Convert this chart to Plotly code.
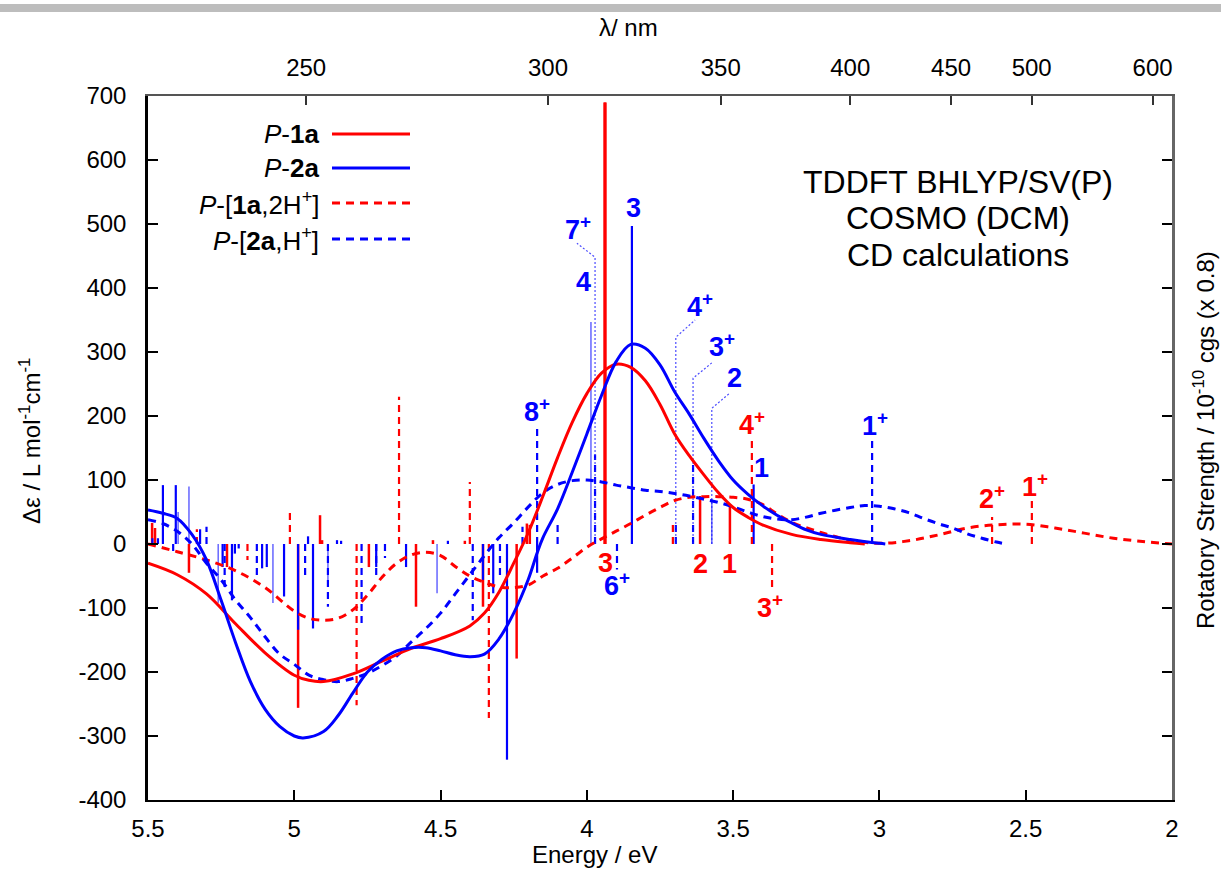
import plotly.graph_objects as go

# ---------------- data ----------------
# P-1a (solid red curve)
p1a_E = [5.5, 5.4, 5.3, 5.2, 5.1, 5.0, 4.95, 4.9, 4.8, 4.7, 4.6, 4.5, 4.4, 4.35, 4.3, 4.25, 4.2,
         4.15, 4.1, 4.05, 4.0, 3.95, 3.9, 3.85, 3.8, 3.75, 3.7, 3.65, 3.6, 3.55, 3.5, 3.45, 3.4,
         3.3, 3.2, 3.1, 3.05]
p1a_D = [-30, -48, -78, -125, -170, -205, -213, -215, -203, -183, -163, -148, -128, -108, -75, -30, 18,
         75, 135, 190, 235, 267, 281, 276, 255, 218, 172, 138, 108, 80, 57, 42, 30,
         15, 7, 2, 0]
# P-2a (solid blue curve)
p2a_E = [5.5, 5.45, 5.4, 5.35, 5.3, 5.25, 5.2, 5.15, 5.1, 5.05, 5.0, 4.97, 4.9, 4.85, 4.8, 4.75,
         4.7, 4.65, 4.6, 4.55, 4.5, 4.45, 4.4, 4.35, 4.3, 4.25, 4.2, 4.17, 4.15, 4.1, 4.05, 4.0,
         3.95, 3.9, 3.85, 3.8, 3.75, 3.7, 3.65, 3.6, 3.55, 3.5, 3.45, 3.4, 3.35, 3.3, 3.25, 3.2,
         3.1, 3.0, 2.98]
p2a_D = [53, 48, 40, 15, -25, -88, -155, -215, -258, -285, -300, -303, -293, -268, -233, -200,
         -180, -167, -162, -162, -167, -173, -176, -172, -148, -108, -55, -14, 10, 55, 112, 172,
         232, 285, 312, 306, 280, 238, 203, 165, 130, 100, 78, 60, 45, 33, 22, 15,
         7, 1, 0]
# P-[1a,2H+] (dashed red curve)
p1aH_E = [5.5, 5.4, 5.3, 5.2, 5.1, 5.0, 4.95, 4.9, 4.85, 4.8, 4.75, 4.7, 4.65, 4.6, 4.55, 4.5,
          4.45, 4.4, 4.35, 4.3, 4.25, 4.2, 4.15, 4.1, 4.05, 4.0, 3.95, 3.9, 3.85, 3.8, 3.75,
          3.7, 3.65, 3.6, 3.55, 3.5, 3.45, 3.4, 3.35, 3.3, 3.2, 3.1, 3.0, 2.9, 2.8, 2.7, 2.6,
          2.5, 2.4, 2.3, 2.2, 2.1, 2.0]
p1aH_D = [0, -12, -25, -42, -68, -105, -116, -119, -116, -103, -80, -52, -30, -17, -13, -18,
          -35, -50, -60, -67, -68, -64, -50, -38, -22, -5, 8, 20, 32, 45, 57,
          68, 73, 74, 74, 73, 70, 62, 47, 34, 18, 6, 1, 5, 14, 25, 30,
          31, 25, 17, 9, 4, 0]
# P-[2a,H+] (dashed blue curve)
p2aH_E = [5.5, 5.45, 5.4, 5.35, 5.3, 5.25, 5.2, 5.15, 5.1, 5.05, 5.0, 4.95, 4.9, 4.85, 4.8, 4.75,
          4.7, 4.65, 4.6, 4.55, 4.5, 4.45, 4.4, 4.35, 4.3, 4.25, 4.2, 4.15, 4.1, 4.05, 4.0, 3.95,
          3.9, 3.85, 3.8, 3.75, 3.7, 3.65, 3.6, 3.55, 3.5, 3.45, 3.4, 3.35, 3.3, 3.25, 3.2, 3.1,
          3.05, 3.0, 2.95, 2.9, 2.85, 2.8, 2.75, 2.7, 2.65, 2.6, 2.58]
p2aH_D = [38, 32, 20, 0, -30, -56, -88, -115, -145, -172, -188, -205, -212, -215, -210, -202,
          -190, -175, -153, -132, -108, -78, -48, -18, 10, 33, 58, 80, 93, 99, 100, 97,
          92, 88, 84, 82, 79, 75, 70, 65, 58, 50, 43, 39, 38, 42, 48, 57,
          60, 59, 55, 49, 40, 32, 25, 16, 9, 3, 1]

# rotatory strengths (sticks)
p1a_stick_E = [5.486, 5.476, 5.36, 5.23, 4.987, 4.912, 4.905, 4.745, 4.584, 4.526, 4.417, 4.355,
               4.24, 4.205, 4.195, 3.938, 3.613, 3.511]
p1a_stick_R = [33, 25, -45, -36, -256, 45, 6, -36, -98, 6, 5, -98,
               -179, 32, 30, 690, 75, 60]
p2a_stick_E = [5.485, 5.466, 5.449, 5.405, 5.322, 5.245, 5.213, 5.203, 5.19, 5.11, 5.094, 5.035,
               4.987, 4.953, 4.936, 4.854, 4.84, 4.72, 4.618, 4.475, 4.355, 4.32, 4.273, 4.17,
               3.846, 3.43]
p2a_stick_R = [9, 9, 92, 92, 23, -36, -88, -15, -7, -38, -36, -82,
               -134, 12, -132, 6, 5, -36, -36, 5, -56, -77, -337, -45,
               497, 93]
p2a_light_E = [5.397, 5.36, 5.26, 5.073, 4.885, 4.512, 3.986, 3.573]
p2a_light_R = [50, 90, -92, -92, -61, -77, 347, 70]
p1aH_stick_E = [5.333, 5.16, 5.015, 4.787, 4.642, 4.4, 4.335, 3.706, 3.436, 3.367, 2.615, 2.479]
p1aH_stick_R = [23, -25, 53, -252, 230, 97, -272, 33, 168, -70, 42, 74]
p2aH_stick_E = [5.414, 5.30, 5.238, 5.128, 4.963, 4.885, 4.77, 4.72, 4.69, 4.39, 4.297, 4.22,
                4.17, 4.1, 3.972, 3.897, 3.696, 3.637, 3.025]
p2aH_stick_R = [-12, 27, -72, -56, -56, -98, -129, -56, -22, -119, -56, 27,
                184, 30, 140, -40, 30, 130, 162]

# leader lines: stick energy, bend value, end energy, end value
leader_E0 = [3.972, 3.696, 3.637, 3.573]
leader_R0 = [448, 323, 259, 212]
leader_E1 = [4.034, 3.630, 3.573, 3.511]
leader_R1 = [470, 350, 283, 236]

# state labels
lab_text = ["7<sup>+</sup>", "3", "4", "8<sup>+</sup>", "4<sup>+</sup>", "3<sup>+</sup>", "2",
            "4<sup>+</sup>", "1", "1<sup>+</sup>", "2<sup>+</sup>", "1<sup>+</sup>",
            "3", "6<sup>+</sup>", "2", "1", "3<sup>+</sup>"]
lab_E = [4.030, 3.842, 4.013, 4.171, 3.613, 3.538, 3.494,
         3.436, 3.402, 3.015, 2.615, 2.469,
         3.938, 3.897, 3.613, 3.511, 3.374]
lab_R = [494, 525, 409, 209, 373, 311, 259,
         189, 119, 188, 73, 92,
         -30, -62, -31, -31, -97]
lab_col = ["b", "b", "b", "b", "b", "b", "b",
           "r", "b", "b", "r", "r",
           "r", "b", "r", "r", "r"]

# axes
x_ticks = [5.5, 5, 4.5, 4, 3.5, 3, 2.5, 2]
x_ticklabels = ["5.5", "5", "4.5", "4", "3.5", "3", "2.5", "2"]
y_ticks = [-400, -300, -200, -100, 0, 100, 200, 300, 400, 500, 600, 700]
y_ticklabels = ["-400", "-300", "-200", "-100", "0", "100", "200", "300", "400", "500", "600", "700"]
lambda_nm = [250, 300, 350, 400, 450, 500, 600]
x_range = [5.5, 2.0]
y_range = [-400, 700]

RED = "#ff0000"
BLUE = "#0000ff"
FONT = "Liberation Sans, Arial, sans-serif"


def sticks(E, R):
    xs, ys = [], []
    for e, r in zip(E, R):
        xs += [e, e, None]
        ys += [0, r, None]
    return xs, ys


fig = go.Figure()

stick_specs = [
    (p1a_stick_E, p1a_stick_R, RED, 2.5, "solid"),
    (p2a_stick_E, p2a_stick_R, BLUE, 2.2, "solid"),
    (p2a_light_E, p2a_light_R, "rgba(50,50,255,0.7)", 1.6, "solid"),
    (p1aH_stick_E, p1aH_stick_R, RED, 2.2, "7px,5px"),
    (p2aH_stick_E, p2aH_stick_R, BLUE, 2.2, "7px,5px"),
]
for E, R, c, w, d in stick_specs:
    xs, ys = sticks(E, R)
    fig.add_trace(go.Scatter(x=xs, y=ys, mode="lines", line=dict(color=c, width=w, dash=d),
                             showlegend=False, hoverinfo="skip"))

# thick red stick 3
fig.add_trace(go.Scatter(x=[p1a_stick_E[15], p1a_stick_E[15]], y=[0, p1a_stick_R[15]], mode="lines",
                         line=dict(color=RED, width=3.2), showlegend=False, hoverinfo="skip"))

# leader lines
lx, ly = [], []
for e0, r0, e1, r1 in zip(leader_E0, leader_R0, leader_E1, leader_R1):
    lx += [e0, e0, e1, None]
    ly += [0, r0, r1, None]
fig.add_trace(go.Scatter(x=lx, y=ly, mode="lines",
                         line=dict(color="rgba(30,30,255,0.8)", width=1.2, dash="2px,2px"),
                         showlegend=False, hoverinfo="skip"))

# curves
curve_specs = [
    (p1aH_E, p1aH_D, RED, "8px,6px"),
    (p2aH_E, p2aH_D, BLUE, "8px,6px"),
    (p1a_E, p1a_D, RED, "solid"),
    (p2a_E, p2a_D, BLUE, "solid"),
]
for E, D, c, d in curve_specs:
    fig.add_trace(go.Scatter(x=E, y=D, mode="lines", line=dict(color=c, width=3, dash=d, shape="spline"),
                             showlegend=False, hoverinfo="skip"))

# invisible trace for secondary axes
fig.add_trace(go.Scatter(x=x_range, y=[None, None], xaxis="x2", yaxis="y2", mode="lines",
                         showlegend=False, hoverinfo="skip"))

# state labels
for t, e, r, c in zip(lab_text, lab_E, lab_R, lab_col):
    fig.add_annotation(x=e, y=r, text="<b>" + t + "</b>", showarrow=False,
                       font=dict(family=FONT, size=27, color=RED if c == "r" else BLUE))

# legend (manual, gnuplot style: text then line sample)
leg_text = ["<i>P</i>-<b>1a</b>", "<i>P</i>-<b>2a</b>",
            "<i>P</i>-[<b>1a</b>,2H<sup>+</sup>]", "<i>P</i>-[<b>2a</b>,H<sup>+</sup>]"]
leg_col = [RED, BLUE, RED, BLUE]
leg_dash = ["solid", "solid", "8px,6px", "8px,6px"]
leg_y_px = [134, 168, 203, 239]
W, H, L, T = 1221, 888, 148, 96
PW, PH = 1172 - 148, 800 - 96


def px(xp):
    return (xp - L) / PW


def py(yp):
    return 1 - (yp - T) / PH


for t, c, d, yp in zip(leg_text, leg_col, leg_dash, leg_y_px):
    fig.add_annotation(xref="paper", yref="paper", x=px(321), y=py(yp), text=t, showarrow=False,
                       xanchor="right", yanchor="middle", font=dict(family=FONT, size=26, color="black"))
    fig.add_shape(type="line", xref="paper", yref="paper", x0=px(332), x1=px(410), y0=py(yp), y1=py(yp),
                  line=dict(color=c, width=3, dash=d))

# method text
for t, yp in zip(["TDDFT BHLYP/SV(P)", "COSMO (DCM)", "CD calculations"], [182, 218, 255]):
    fig.add_annotation(xref="paper", yref="paper", x=px(958), y=py(yp), text=t, showarrow=False,
                       xanchor="center", yanchor="middle", font=dict(family=FONT, size=32, color="black"))

# axis titles
fig.add_annotation(xref="paper", yref="paper", x=px(594), y=py(854), text="Energy / eV", showarrow=False,
                   xanchor="center", yanchor="middle", font=dict(family=FONT, size=24, color="black"))
fig.add_annotation(xref="paper", yref="paper", x=px(628), y=py(28), text="λ/ nm", showarrow=False,
                   xanchor="center", yanchor="middle", font=dict(family=FONT, size=24, color="black"))
fig.add_annotation(xref="paper", yref="paper", x=px(30), y=py(441),
                   text="Δε / L mol<sup>-1</sup>cm<sup>-1</sup>", showarrow=False, textangle=-90,
                   xanchor="center", yanchor="middle", font=dict(family=FONT, size=24, color="black"))
fig.add_annotation(xref="paper", yref="paper", x=px(1204), y=py(440),
                   text="Rotatory Strength / 10<sup>-10</sup> cgs (x 0.8)", showarrow=False, textangle=-90,
                   xanchor="center", yanchor="middle", font=dict(family=FONT, size=24, color="black"))

# gray band at very top
fig.add_shape(type="rect", xref="paper", yref="paper", x0=px(0), x1=px(W), y0=py(12), y1=py(4),
              fillcolor="#bdbdbd", line=dict(width=0), layer="above")

lam_E = [1239.84 / l for l in lambda_nm]

fig.update_layout(
    width=W, height=H,
    margin=dict(l=L, r=W - 1172, t=T, b=H - 800),
    plot_bgcolor="white", paper_bgcolor="white",
    font=dict(family=FONT, size=24, color="black"),
    xaxis=dict(range=x_range, tickvals=x_ticks, ticktext=x_ticklabels, ticks="inside", ticklen=10,
               tickwidth=2, tickcolor="black", showline=True, linecolor="black", linewidth=2,
               showgrid=False, zeroline=False, mirror=False, tickfont=dict(size=24),
               ticklabelstandoff=6),
    yaxis=dict(range=y_range, tickvals=y_ticks, ticktext=y_ticklabels, ticks="inside", ticklen=10,
               tickwidth=2, tickcolor="black", showline=True, linecolor="black", linewidth=2.5,
               showgrid=False, zeroline=False, tickfont=dict(size=24), ticklabelstandoff=14),
    xaxis2=dict(range=x_range, overlaying="x", side="top", tickvals=lam_E,
                ticktext=[str(l) for l in lambda_nm], ticks="inside", ticklen=9, tickwidth=2,
                tickcolor="#333", showline=True, linecolor="#555", linewidth=2, showgrid=False,
                zeroline=False, tickfont=dict(size=24), ticklabelstandoff=8),
    yaxis2=dict(range=y_range, overlaying="y", side="right", tickvals=y_ticks, ticks="inside",
                ticklen=10, tickwidth=2, tickcolor="black", showticklabels=False, showline=True,
                linecolor="#666", linewidth=3, showgrid=False, zeroline=False),
)

fig.write_html("out.html")
